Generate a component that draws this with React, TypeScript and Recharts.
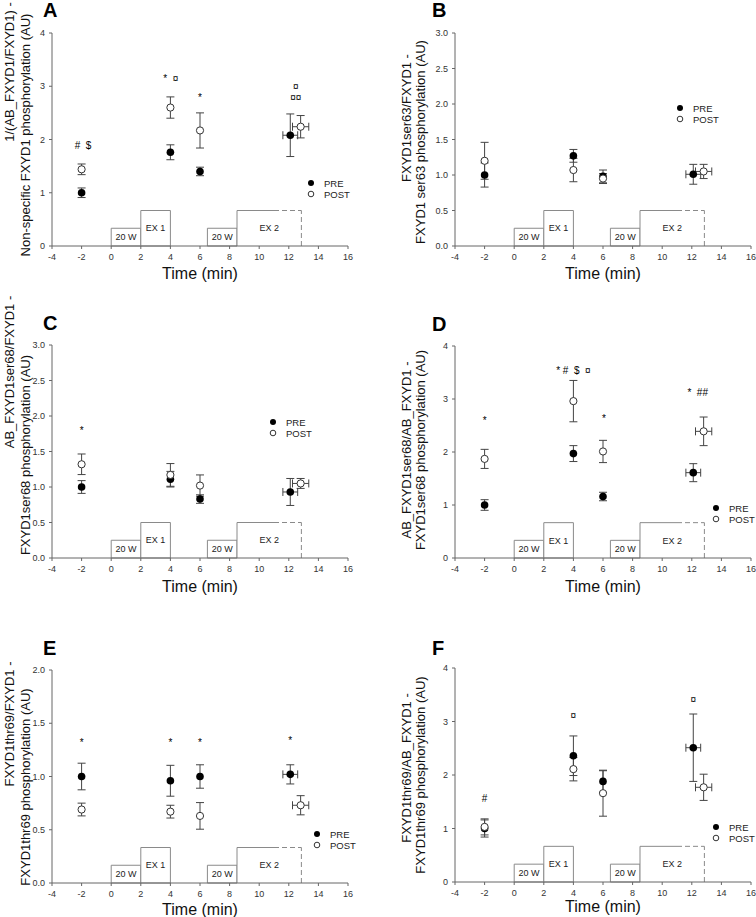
import React from 'react';
import { ScatterChart, Scatter, XAxis, YAxis, ErrorBar, ReferenceArea, ReferenceLine } from 'recharts';

const FONT = '"Liberation Sans", Arial, Helvetica, sans-serif';

// time axis
const xTicks = [-4, -2, 0, 2, 4, 6, 8, 10, 12, 14, 16];
const preTimes = [-2, 4, 6, 12.1];
const postTimes = [-2, 4, 6, 12.8];
const preTimeErr = [0, 0, 0, 0.5];
const postTimeErr = [0, 0, 0, 0.55];

// protocol boxes (level: 1 = 20 W, 2 = exercise)
const phaseStart = [0, 2, 6.5, 8.5];
const phaseEnd = [2, 4, 8.5, 12.85];
const phaseLabels = ['20 W', 'EX 1', '20 W', 'EX 2'];
const phaseLevel = [1, 2, 1, 2];
const ex2SolidEnd = 11;

// A
const preA = [1.0, 1.76, 1.4, 2.08];
const preAErr = [0.09, 0.14, 0.08, 0.4];
const postA = [1.44, 2.6, 2.17, 2.24];
const postAErr = [0.1, 0.2, 0.33, 0.21];
const notesA = [
  { x: -1.9, y: 1.89, text: '#\u00a0\u00a0$' },
  { x: 4.03, y: 3.15, text: '*\u00a0\u00a0¤' },
  { x: 6, y: 2.79, text: '*' },
  { x: 12.47, y: 2.99, text: '¤' },
  { x: 12.47, y: 2.79, text: '¤¤' },
];

// B
const preB = [1.0, 1.27, 0.98, 1.01];
const preBErr = [0.17, 0.09, 0.09, 0.14];
const postB = [1.2, 1.07, 0.95, 1.05];
const postBErr = [0.26, 0.165, 0.07, 0.1];
const notesB: { x: number; y: number; text: string }[] = [];

// C
const preC = [1.0, 1.11, 0.83, 0.93];
const preCErr = [0.09, 0.11, 0.06, 0.19];
const postC = [1.32, 1.17, 1.02, 1.05];
const postCErr = [0.145, 0.16, 0.15, 0.07];
const notesC = [{ x: -2, y: 1.79, text: '*' }];

// D
const preD = [1.0, 1.97, 1.16, 1.61];
const preDErr = [0.1, 0.15, 0.08, 0.17];
const postD = [1.87, 2.96, 2.01, 2.39];
const postDErr = [0.18, 0.39, 0.21, 0.27];
const notesD = [
  { x: -2, y: 2.6, text: '*' },
  { x: 4.0, y: 3.53, text: '*\u00a0#\u00a0\u00a0$\u00a0\u00a0¤' },
  { x: 6.07, y: 2.64, text: '*' },
  { x: 12.4, y: 3.12, text: '*\u00a0\u00a0##' },
];

// E
const preE = [1.0, 0.96, 1.0, 1.02];
const preEErr = [0.125, 0.145, 0.11, 0.09];
const postE = [0.69, 0.67, 0.63, 0.73];
const postEErr = [0.06, 0.06, 0.125, 0.09];
const notesE = [
  { x: -2, y: 1.32, text: '*' },
  { x: 4, y: 1.32, text: '*' },
  { x: 6, y: 1.32, text: '*' },
  { x: 12.1, y: 1.34, text: '*' },
];

// F
const preF = [1.0, 2.36, 1.88, 2.51];
const preFErr = [0.16, 0.37, 0.2, 0.63];
const postF = [1.03, 2.11, 1.66, 1.77];
const postFErr = [0.15, 0.22, 0.43, 0.245];
const notesF = [
  { x: -2, y: 1.57, text: '#' },
  { x: 4, y: 3.11, text: '¤' },
  { x: 12.1, y: 3.41, text: '¤' },
];

const pts = (xs: number[], ys: number[], eys: number[], exs: number[]) =>
  xs.map((x, i) => ({ x, y: ys[i], ey: eys[i], ex: exs[i] }));

const panels = [
  {
    letter: 'A', left: 0, top: 0, w: 378, h: 300, yw: 52, mt: 33, mr: 30, mb: 24, yMax: 4, dec: 0,
    yTicks: [0, 1, 2, 3, 4], pre: preA, preErr: preAErr, post: postA, postErr: postAErr, notes: notesA,
    lines: ['1/(AB_FXYD1/FXYD1) -', 'Non-specific FXYD1 phosphorylation (AU)'],
    l1: [9, 72], l2: [25, 135], leg: [311, 183], lx: 43, ly: 17, tdy: 33,
  },
  {
    letter: 'B', left: 378, top: 0, w: 378, h: 300, yw: 77, mt: 33, mr: 5, mb: 24, yMax: 3, dec: 1,
    yTicks: [0, 0.5, 1, 1.5, 2, 2.5, 3], pre: preB, preErr: preBErr, post: postB, postErr: postBErr, notes: notesB,
    lines: ['FXYD1ser63/FXYD1 -', 'FXYD1 ser63 phosphorylation (AU)'],
    l1: [406, 118], l2: [420, 142], leg: [680, 108], lx: 432, ly: 17, tdy: 33,
  },
  {
    letter: 'C', left: 0, top: 300, w: 378, h: 300, yw: 52, mt: 45, mr: 30, mb: 12, yMax: 3, dec: 1,
    yTicks: [0, 0.5, 1, 1.5, 2, 2.5, 3], pre: preC, preErr: preCErr, post: postC, postErr: postCErr, notes: notesC,
    lines: ['AB_FXYD1ser68/FXYD1 -', 'FXYD1ser68 phosphorylation (AU)'],
    l1: [9, 372], l2: [25, 455], leg: [273, 422], lx: 43, ly: 330, tdy: 34,
  },
  {
    letter: 'D', left: 378, top: 300, w: 378, h: 300, yw: 77, mt: 46, mr: 5, mb: 12, yMax: 4, dec: 0,
    yTicks: [0, 1, 2, 3, 4], pre: preD, preErr: preDErr, post: postD, postErr: postDErr, notes: notesD,
    lines: ['AB_FXYD1ser68/AB_FXYD1 -', 'FXYD1ser68 phosphorylation (AU)'],
    l1: [406, 450], l2: [420, 450], leg: [716, 508], lx: 432, ly: 331, tdy: 34,
  },
  {
    letter: 'E', left: 0, top: 600, w: 378, h: 317, yw: 52, mt: 70, mr: 30, mb: 4, yMax: 2, dec: 1,
    yTicks: [0, 0.5, 1, 1.5, 2], pre: preE, preErr: preEErr, post: postE, postErr: postEErr, notes: notesE,
    lines: ['FXYD1thr69/FXYD1 -', 'FXYD1thr69 phosphorylation (AU)'],
    l1: [9, 724], l2: [25, 787], leg: [317, 834], lx: 43, ly: 655, tdy: 32,
  },
  {
    letter: 'F', left: 378, top: 600, w: 378, h: 317, yw: 77, mt: 68, mr: 5, mb: 5, yMax: 4, dec: 0,
    yTicks: [0, 1, 2, 3, 4], pre: preF, preErr: preFErr, post: postF, postErr: postFErr, notes: notesF,
    lines: ['FXYD1thr69/AB_FXYD1 -', 'FXYD1thr69 phosphorylation (AU)'],
    l1: [406, 768], l2: [420, 775], leg: [716, 827], lx: 432, ly: 655, tdy: 30,
  },
];

const AXIS = '#666';
const BOX = '#8a8a8a';

function Panel({ cfg }: { cfg: any }) {
  const pre = pts(preTimes, cfg.pre, cfg.preErr, preTimeErr);
  const post = pts(postTimes, cfg.post, cfg.postErr, postTimeErr);
  const u = cfg.yMax / 12;
  const ex2 = 3;
  const top2 = phaseLevel[ex2] * u;
  return (
    <div style={{ position: 'absolute', left: cfg.left, top: cfg.top, width: cfg.w, height: cfg.h }}>
      <ScatterChart width={cfg.w} height={cfg.h} margin={{ top: cfg.mt, right: cfg.mr, bottom: cfg.mb, left: 0 }}>
        <XAxis
          type="number"
          dataKey="x"
          domain={[-4, 16]}
          ticks={xTicks}
          allowDataOverflow
          height={30}
          stroke={AXIS}
          tickSize={3}
          tickMargin={5}
          tick={{ fontSize: 9, fill: '#333', fontFamily: FONT }}
          label={(p: any) => {
            const vb = p.viewBox || {};
            return (
              <text x={vb.x + vb.width / 2} y={vb.y + cfg.tdy} textAnchor="middle" fontSize={16} fontFamily={FONT} fill="#111">
                Time (min)
              </text>
            );
          }}
        />
        <YAxis
          type="number"
          dataKey="y"
          domain={[0, cfg.yMax]}
          ticks={cfg.yTicks}
          allowDataOverflow
          width={cfg.yw}
          stroke={AXIS}
          tickSize={3}
          tickMargin={4}
          tickFormatter={(v: number) => v.toFixed(cfg.dec)}
          tick={{ fontSize: 9, fill: '#333', fontFamily: FONT }}
        />
        {phaseStart.map((s, i) => (
          <ReferenceArea
            key={'pa' + i}
            x1={s}
            x2={phaseEnd[i]}
            y1={0}
            y2={phaseLevel[i] * u}
            fill="#fff"
            fillOpacity={1}
            stroke={i === ex2 ? 'none' : BOX}
            strokeWidth={1}
            label={{ value: phaseLabels[i], position: 'center', fontSize: 9, fill: '#222', fontFamily: FONT }}
          />
        ))}
        <ReferenceLine segment={[{ x: phaseStart[ex2], y: 0 }, { x: phaseStart[ex2], y: top2 }]} stroke={BOX} />
        <ReferenceLine segment={[{ x: phaseStart[ex2], y: top2 }, { x: ex2SolidEnd, y: top2 }]} stroke={BOX} />
        <ReferenceLine segment={[{ x: ex2SolidEnd, y: top2 }, { x: phaseEnd[ex2], y: top2 }]} stroke={BOX} strokeDasharray="5 3" />
        <ReferenceLine segment={[{ x: phaseEnd[ex2], y: 0 }, { x: phaseEnd[ex2], y: top2 }]} stroke={BOX} strokeDasharray="5 3" />
        <Scatter
          data={pre}
          isAnimationActive={false}
          shape={(p: any) => <circle cx={p.cx} cy={p.cy} r={3.8} fill="#000" />}
        >
          <ErrorBar dataKey="ey" direction="y" width={4} stroke="#444" strokeWidth={1} />
          <ErrorBar dataKey="ex" direction="x" width={4} stroke="#444" strokeWidth={1} />
        </Scatter>
        <Scatter
          data={post}
          isAnimationActive={false}
          shape={(p: any) => <circle cx={p.cx} cy={p.cy} r={3.6} fill="#fff" stroke="#333" strokeWidth={1} />}
        >
          <ErrorBar dataKey="ey" direction="y" width={4} stroke="#444" strokeWidth={1} />
          <ErrorBar dataKey="ex" direction="x" width={4} stroke="#444" strokeWidth={1} />
        </Scatter>
        <Scatter
          data={cfg.notes}
          isAnimationActive={false}
          shape={(p: any) => (
            <text x={p.cx} y={p.cy} textAnchor="middle" dominantBaseline="central" fontSize={10} fontFamily={FONT} fill="#000">
              {p.payload.text}
            </text>
          )}
        />
      </ScatterChart>
    </div>
  );
}

function Overlay() {
  return (
    <svg width={756} height={917} style={{ position: 'absolute', left: 0, top: 0, pointerEvents: 'none' }}>
      {panels.map((c) => (
        <g key={c.letter} fontFamily={FONT}>
          <text x={c.lx} y={c.ly} fontSize={20} fontWeight="bold" fill="#000">{c.letter}</text>
          <text x={c.l1[0]} y={c.l1[1]} fontSize={13} fill="#111" textAnchor="middle" dominantBaseline="central" transform={`rotate(-90 ${c.l1[0]} ${c.l1[1]})`}>
            {c.lines[0]}
          </text>
          <text x={c.l2[0]} y={c.l2[1]} fontSize={13} fill="#111" textAnchor="middle" dominantBaseline="central" transform={`rotate(-90 ${c.l2[0]} ${c.l2[1]})`}>
            {c.lines[1]}
          </text>
          <circle cx={c.leg[0]} cy={c.leg[1]} r={3} fill="#000" />
          <text x={c.leg[0] + 13} y={c.leg[1]} fontSize={9.5} dominantBaseline="central" fill="#222">PRE</text>
          <circle cx={c.leg[0]} cy={c.leg[1] + 11} r={2.8} fill="#fff" stroke="#333" />
          <text x={c.leg[0] + 13} y={c.leg[1] + 11} fontSize={9.5} dominantBaseline="central" fill="#222">POST</text>
        </g>
      ))}
    </svg>
  );
}

export default function App() {
  return (
    <div style={{ position: 'absolute', left: 0, top: 0, width: 756, height: 917, background: '#fff', fontFamily: FONT }}>
      {panels.map((c) => (
        <Panel key={c.letter} cfg={c} />
      ))}
      <Overlay />
    </div>
  );
}
